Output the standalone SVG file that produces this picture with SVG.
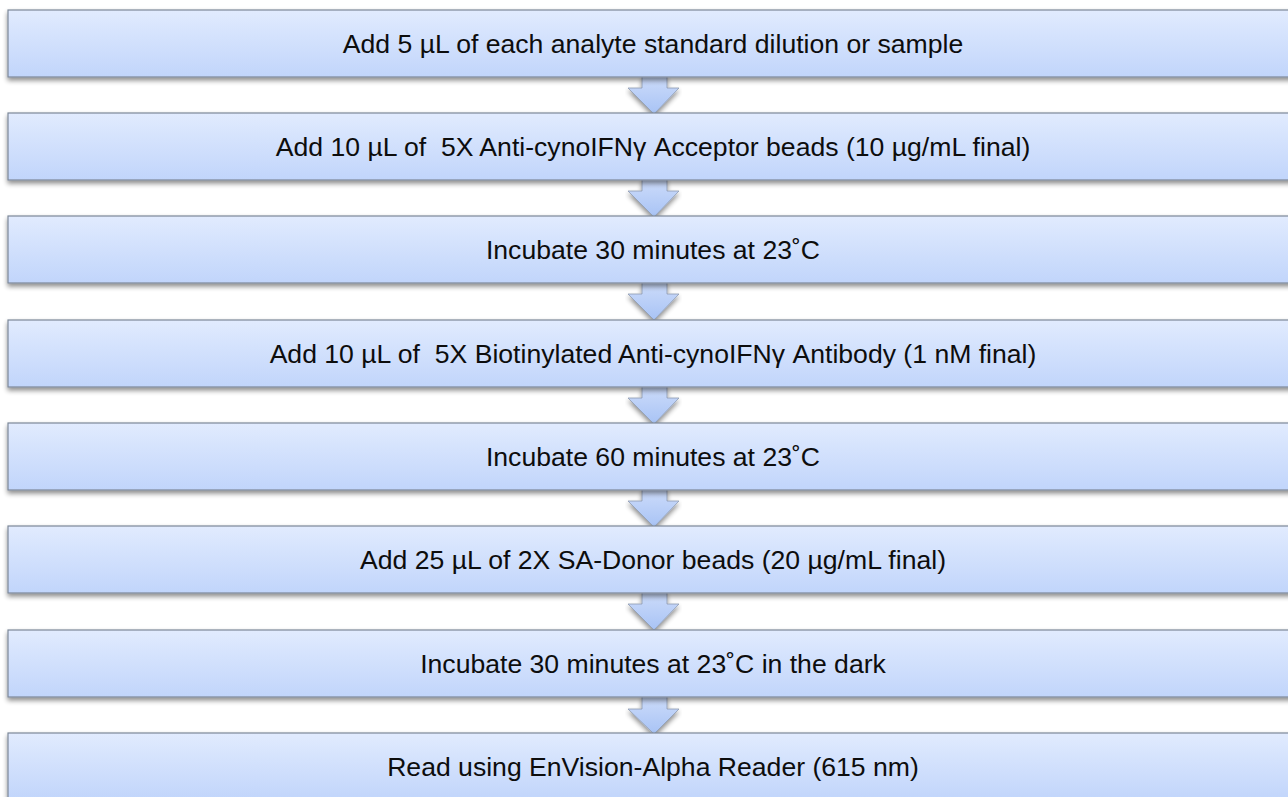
<svg xmlns="http://www.w3.org/2000/svg" width="1288" height="797" viewBox="0 0 1288 797">
<defs>
<linearGradient id="boxg" x1="0" y1="0" x2="0" y2="1">
<stop offset="0" stop-color="#e1ebfe"/>
<stop offset="1" stop-color="#c1d5fb"/>
</linearGradient>
<linearGradient id="arrg" x1="0" y1="0" x2="0" y2="1">
<stop offset="0" stop-color="#cddcfa"/>
<stop offset="1" stop-color="#a8c3f5"/>
</linearGradient>
<filter id="sh" x="-5%" y="-20%" width="110%" height="160%">
<feGaussianBlur in="SourceAlpha" stdDeviation="2.5"/>
<feOffset dx="0" dy="3" result="b"/>
<feComponentTransfer><feFuncA type="linear" slope="0.45"/></feComponentTransfer>
<feMerge><feMergeNode/><feMergeNode in="SourceGraphic"/></feMerge>
</filter>
</defs>
<style>
.box{fill:url(#boxg);stroke:#7d8898;stroke-width:1.2;filter:url(#sh)}
.arr{fill:url(#arrg);stroke:#8e9bb0;stroke-width:0.8;filter:url(#sh)}
.t{font-family:"Liberation Sans",Arial,sans-serif;font-size:26.6px;fill:#0d0d0d;text-anchor:middle;white-space:pre}
</style>
<rect width="1288" height="797" fill="#ffffff"/>
<g id="connectors">
<path class="arr" d="M642,76 L667,76 L667,88 L679,88 L654,114 L628,88 L642,88 Z"/>
<path class="arr" d="M642,179 L667,179 L667,191 L679,191 L654,217 L628,191 L642,191 Z"/>
<path class="arr" d="M642,282 L667,282 L667,294 L679,294 L654,320 L628,294 L642,294 Z"/>
<path class="arr" d="M642,386 L667,386 L667,398 L679,398 L654,424 L628,398 L642,398 Z"/>
<path class="arr" d="M642,489 L667,489 L667,501 L679,501 L654,527 L628,501 L642,501 Z"/>
<path class="arr" d="M642,592 L667,592 L667,604 L679,604 L654,630 L628,604 L642,604 Z"/>
<path class="arr" d="M642,696 L667,696 L667,709 L679,709 L654,734 L628,709 L642,709 Z"/>
</g>
<g id="n1"><rect class="box" x="8" y="10" width="1300" height="67"/><text class="t" x="653" y="53">Add 5 µL of each analyte standard dilution or sample</text></g>
<g id="n2"><rect class="box" x="8" y="113" width="1300" height="67"/><text class="t" x="653" y="156" xml:space="preserve">Add 10 µL of  5X Anti-cynoIFNγ Acceptor beads (10 µg/mL final)</text></g>
<g id="n3"><rect class="box" x="8" y="216" width="1300" height="67"/><text class="t" x="653" y="259">Incubate 30 minutes at 23˚C</text></g>
<g id="n4"><rect class="box" x="8" y="320" width="1300" height="67"/><text class="t" x="653" y="363" xml:space="preserve">Add 10 µL of  5X Biotinylated Anti-cynoIFNγ Antibody (1 nM final)</text></g>
<g id="n5"><rect class="box" x="8" y="423" width="1300" height="67"/><text class="t" x="653" y="466">Incubate 60 minutes at 23˚C</text></g>
<g id="n6"><rect class="box" x="8" y="526" width="1300" height="67"/><text class="t" x="653" y="569">Add 25 µL of 2X SA-Donor beads (20 µg/mL final)</text></g>
<g id="n7"><rect class="box" x="8" y="630" width="1300" height="67"/><text class="t" x="653" y="673">Incubate 30 minutes at 23˚C in the dark</text></g>
<g id="n8"><rect class="box" x="8" y="733" width="1300" height="67"/><text class="t" x="653" y="776">Read using EnVision-Alpha Reader (615 nm)</text></g>
</svg>
